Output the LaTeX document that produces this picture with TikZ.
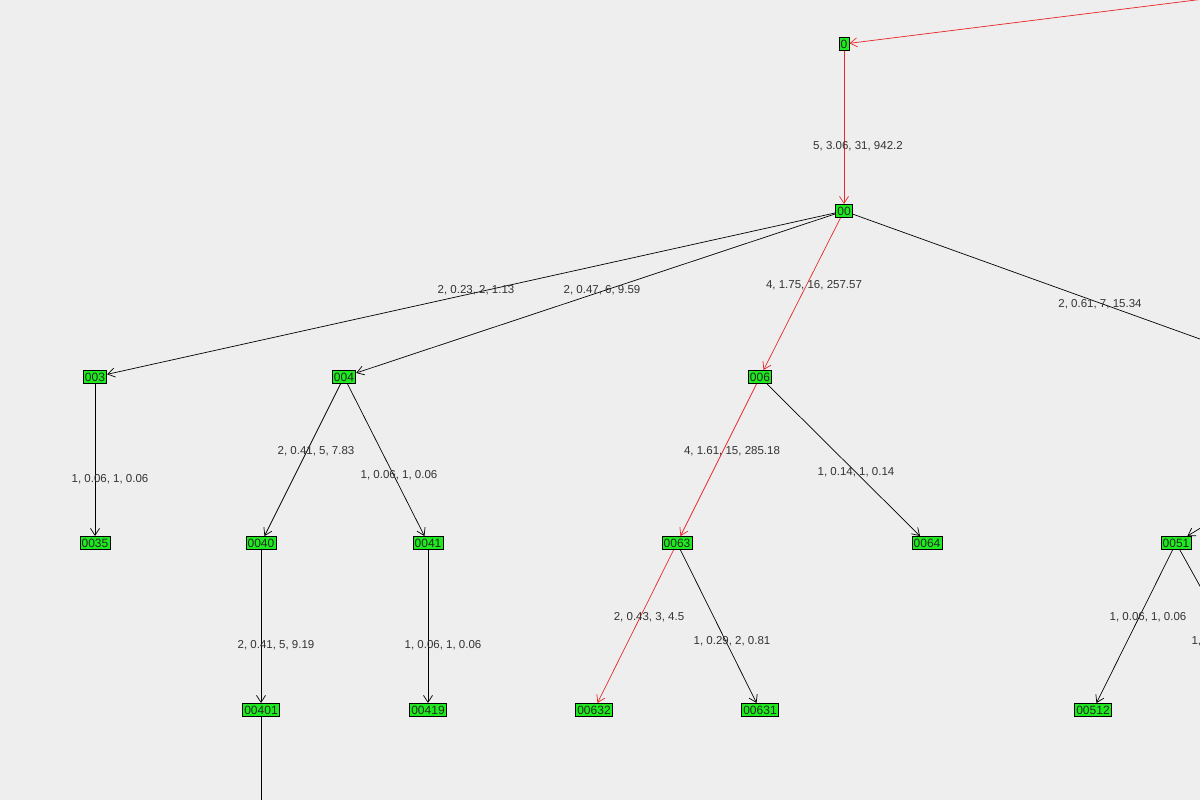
\documentclass[tikz,border=0pt]{standalone}
\usepackage{fontspec}
\setmainfont{Liberation Sans}
\usetikzlibrary{arrows.meta}
\definecolor{bg}{HTML}{EEEEEE}
\definecolor{nodegreen}{HTML}{1EEB1E}
\definecolor{lbl}{HTML}{333333}
\definecolor{redline}{HTML}{E8282A}
\tikzset{
  tn/.style={draw=black, fill=nodegreen, inner xsep=1.8pt, inner ysep=2.4pt, font=\fontsize{12}{12}\selectfont, text=black!85, line width=0.7pt},
  ed/.style={draw=black, line width=0.7pt, -{Straight Barb[length=7pt,width=9pt]}},
  red/.style={ed, draw=redline},
  el/.style={font=\fontsize{11.5}{11.5}\selectfont, text=lbl, fill=none}
}
\begin{document}
\begin{tikzpicture}[x=1pt,y=-1pt]
\fill[bg] (0,0) rectangle (1200,800);
\useasboundingbox (0,0) rectangle (1200,800);
\clip (0,0) rectangle (1200,800);
\node[tn] (n0) at (844,44) {0};
\node[tn] (n00) at (844,211) {00};
\node[tn] (n003) at (95,377) {003};
\node[tn] (n004) at (344,377) {004};
\node[tn] (n006) at (760,377) {006};
\node[tn] (n0035) at (95,543) {0035};
\node[tn] (n0040) at (261,543) {0040};
\node[tn] (n0041) at (428,543) {0041};
\node[tn] (n0063) at (677,543) {0063};
\node[tn] (n0064) at (927,543) {0064};
\node[tn] (n0051) at (1176,543) {0051};
\node[tn] (n00401) at (261,710) {00401};
\node[tn] (n00419) at (428,710) {00419};
\node[tn] (n00632) at (594,710) {00632};
\node[tn] (n00631) at (760,710) {00631};
\node[tn] (n00512) at (1093,710) {00512};
\coordinate (top) at (1260,-8);
\coordinate (n005) at (1300,375);
\coordinate (r005) at (1230,510);
\coordinate (c0051r) at (1230,640);
\coordinate (bot) at (261,820);
\draw[red] (top) -- (n0);
\draw[red] (n0) -- (n00);
\draw[ed] (n00) -- (n003);
\draw[ed] (n00) -- (n004);
\draw[red] (n00) -- (n006);
\draw[draw=black, line width=0.7pt] (n00) -- (n005);
\draw[ed] (r005) -- (n0051);
\draw[ed] (n003) -- (n0035);
\draw[ed] (n004) -- (n0040);
\draw[ed] (n004) -- (n0041);
\draw[red] (n006) -- (n0063);
\draw[ed] (n006) -- (n0064);
\draw[ed] (n0040) -- (n00401);
\draw[ed] (n0041) -- (n00419);
\draw[red] (n0063) -- (n00632);
\draw[ed] (n0063) -- (n00631);
\draw[ed] (n0051) -- (n00512);
\draw[draw=black, line width=0.7pt] (n0051) -- (c0051r);
\draw[draw=black, line width=0.7pt] (n00401) -- (bot);
\node[el] (l1) at (858,146) {5, 3.06, 31, 942.2};
\node[el] (l2) at (476,290) {2, 0.23, 2, 1.13};
\node[el] (l3) at (602,290) {2, 0.47, 6, 9.59};
\node[el] (l4) at (814,285) {4, 1.75, 16, 257.57};
\node[el] (l5) at (1100,304) {2, 0.61, 7, 15.34};
\node[el] (l6) at (110,479) {1, 0.06, 1, 0.06};
\node[el] (l7) at (316,451) {2, 0.41, 5, 7.83};
\node[el] (l8) at (399,475) {1, 0.06, 1, 0.06};
\node[el] (l9) at (732,451) {4, 1.61, 15, 285.18};
\node[el] (l10) at (856,472) {1, 0.14, 1, 0.14};
\node[el] (l11) at (276,645) {2, 0.41, 5, 9.19};
\node[el] (l12) at (443,645) {1, 0.06, 1, 0.06};
\node[el] (l13) at (649,617) {2, 0.43, 3, 4.5};
\node[el] (l14) at (732,641) {1, 0.29, 2, 0.81};
\node[el] (l15) at (1148,617) {1, 0.06, 1, 0.06};
\node[el, anchor=west] (l16) at (1188,641) {1, 0.06, 1, 0.06};
\end{tikzpicture}
\end{document}
